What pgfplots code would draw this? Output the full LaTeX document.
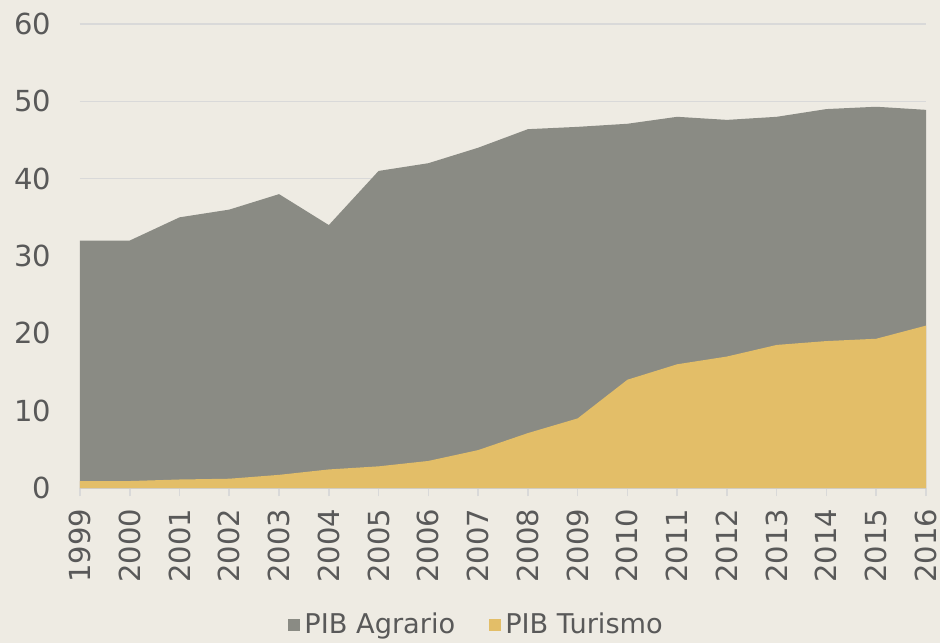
\documentclass[border=0pt]{standalone}
\usepackage{pgfplots}
\pgfplotsset{compat=1.18}
\usepackage{fontspec}
\setmainfont{DejaVu Sans}
\definecolor{bg}{RGB}{238,235,227}
\definecolor{grayA}{RGB}{138,139,132}
\definecolor{yelT}{RGB}{227,190,104}
\definecolor{txt}{RGB}{89,89,89}
\definecolor{gridc}{RGB}{217,217,217}
\begin{document}
\begin{tikzpicture}
\useasboundingbox (0,0) rectangle (470pt,321.5pt);
\fill[bg] (0,0) rectangle (470pt,321.5pt);
\begin{axis}[
  at={(40pt,77.5pt)}, anchor=south west,
  scale only axis, width=423pt, height=232pt,
  xmin=1999, xmax=2016, ymin=0, ymax=60,
  xtick={1999,...,2016},
  xticklabels={1999,2000,2001,2002,2003,2004,2005,2006,2007,2008,2009,2010,2011,2012,2013,2014,2015,2016},
  ytick={0,10,...,60},
  /pgf/number format/assume math mode=true,
  axis x line*=bottom, axis y line*=left,
  y axis line style={draw=none},
  x axis line style={draw=gridc, line width=0.8pt},
  ymajorgrids, grid style={draw=gridc, line width=0.8pt},
  ytick style={draw=none},
  xtick style={draw=gridc, line width=0.8pt},
  tick align=outside, major tick length=4pt,
  xticklabel style={rotate=90, anchor=east, font=\fontsize{14.5}{17}\selectfont, text=txt, xshift=-3pt},
  yticklabel style={anchor=east, font=\fontsize{14.5}{17}\selectfont, text=txt, xshift=-7pt},
  legend columns=2,
  legend style={at={(0.47,-0.295)}, anchor=center, draw=none, fill=none,
    font=\fontsize{13.6}{16}\selectfont, text=txt,
    /tikz/every even column/.append style={column sep=15pt}},
  legend image code/.code={\fill[#1] (-3pt,-3pt) rectangle (3pt,3pt);},
]
\addplot[fill=grayA, draw=none] coordinates {
(1999,32) (2000,32) (2001,35) (2002,36) (2003,38) (2004,34) (2005,41) (2006,42) (2007,44) (2008,46.4) (2009,46.7) (2010,47.1) (2011,48) (2012,47.6) (2013,48) (2014,49) (2015,49.3) (2016,48.9)
} \closedcycle;
\addlegendentry{PIB Agrario}
\addplot[fill=yelT, draw=none] coordinates {
(1999,0.9) (2000,0.9) (2001,1.1) (2002,1.2) (2003,1.7) (2004,2.4) (2005,2.8) (2006,3.5) (2007,4.9) (2008,7.1) (2009,9.0) (2010,14.0) (2011,16.0) (2012,17.0) (2013,18.5) (2014,19.0) (2015,19.3) (2016,21.0)
} \closedcycle;
\addlegendentry{PIB Turismo}
\end{axis}
\end{tikzpicture}
\end{document}
